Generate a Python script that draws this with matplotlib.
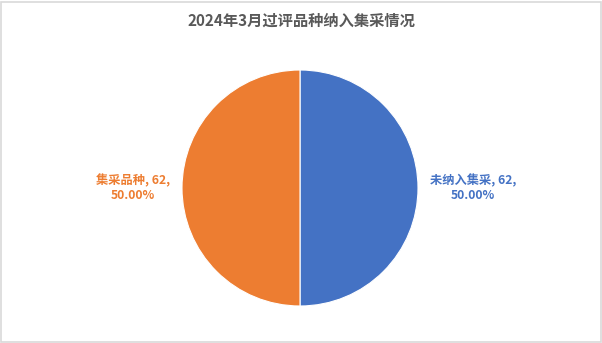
import matplotlib.pyplot as plt
from matplotlib.patches import Rectangle

plt.rcParams['font.family'] = ['Noto Sans CJK SC', 'DejaVu Sans']

# 数据
categories = ["未纳入集采", "集采品种"]
counts = [62, 62]
colors = ["#4472C4", "#ED7D31"]
title = "2024年3月过评品种纳入集采情况"

W, H = 602, 343
fig = plt.figure(figsize=(W / 100, H / 100), dpi=100)

# 外框
fig.patches.append(Rectangle((1 / W, 1 / H), 1 - 2 / W, 1 - 3 / H, transform=fig.transFigure,
                             fill=False, edgecolor="#D9D9D9", linewidth=1.2))

# 饼图位置（中心 300,188，半径约 118 像素）
cx, cy, r = 300, H - 188, 118
ax = fig.add_axes([(cx - r) / W, (cy - r) / H, 2 * r / W, 2 * r / H])

total = sum(counts)
labels = [f"{c}, {v},\n{v / total * 100:.2f}%" for c, v in zip(categories, counts)]

wedges, texts = ax.pie(counts, colors=colors, startangle=90, counterclock=False,
                       labels=labels, labeldistance=1.1,
                       wedgeprops=dict(edgecolor="white", linewidth=0.8),
                       textprops=dict(fontsize=8.8, fontweight="bold", multialignment="center"))
for t, col in zip(texts, colors):
    t.set_color(col)
    t.set_va("center")
ax.set_xlim(-1, 1)
ax.set_ylim(-1, 1)
ax.set_aspect("equal")

fig.text(0.5, 1 - 21 / H, title, ha="center", va="center", fontsize=11,
         fontweight="bold", color="#595959")

fig.savefig("out.png", dpi=100)
